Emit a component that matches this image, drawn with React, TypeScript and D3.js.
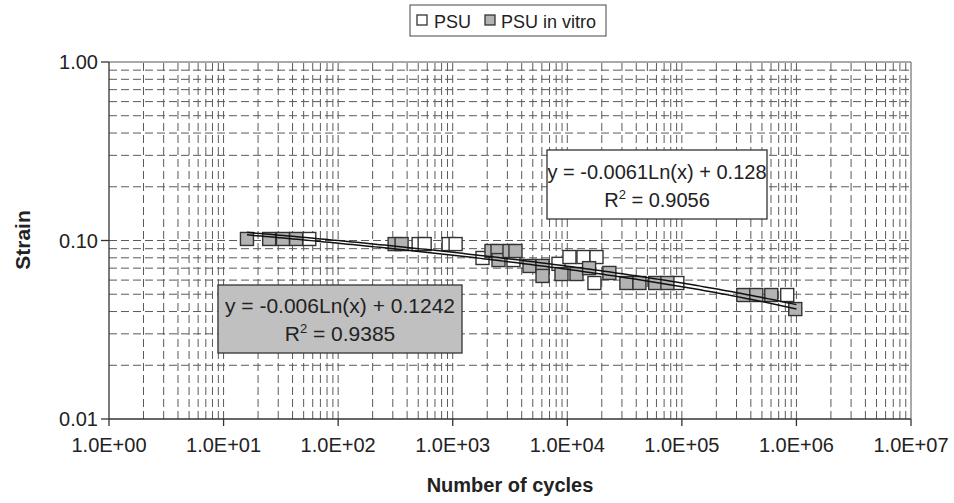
import React from "react";
import * as d3 from "d3";

const W = 954;
const H = 503;

// Tick values and labels
const xTickValues = [1, 10, 100, 1e3, 1e4, 1e5, 1e6, 1e7];
const xTickLabels = ["1.0E+00", "1.0E+01", "1.0E+02", "1.0E+03", "1.0E+04", "1.0E+05", "1.0E+06", "1.0E+07"];
const yTickValues = [0.01, 0.1, 1];
const yTickLabels = ["0.01", "0.10", "1.00"];

// PSU (white squares)
const psuCycles = [56, 504, 569, 921, 1060, 1820, 3390, 8380, 10450, 13840, 17990, 17260, 91300, 831000];
const psuStrain = [0.102, 0.0955, 0.0955, 0.0955, 0.0955, 0.0798, 0.0777, 0.074, 0.0808, 0.0808, 0.0808, 0.0578, 0.0578, 0.0495];

// PSU in vitro (grey squares)
const vitroCycles = [16, 25, 33, 43, 311, 358, 2180, 2460, 2510, 3130, 3530, 4680, 6080, 6080, 8900, 12030, 15500, 23300, 32800, 42650, 58500, 74800, 343600, 446700, 603000, 977000];
const vitroStrain = [0.102, 0.102, 0.102, 0.102, 0.0955, 0.0955, 0.0873, 0.0873, 0.0777, 0.0873, 0.0873, 0.072, 0.072, 0.0633, 0.0649, 0.0649, 0.07, 0.0658, 0.0578, 0.0578, 0.0578, 0.0578, 0.0495, 0.0495, 0.0495, 0.0413];

// Logarithmic trend lines: y = a*ln(x) + b
const psuTrend = { a: -0.0061, b: 0.128, r2: "0.9056", label: "y = -0.0061Ln(x) + 0.128" };
const vitroTrend = { a: -0.006, b: 0.1242, r2: "0.9385", label: "y = -0.006Ln(x) + 0.1242" };
const trendRange = [16, 1e6];

const FONT = "'Liberation Sans', Arial, sans-serif";

export default function App() {
  const left = 109, right = 911, top = 62, bottom = 419;
  const x = d3.scaleLog().domain([1, 1e7]).range([left, right]);
  const y = d3.scaleLog().domain([0.01, 1]).range([bottom, top]);

  const vGrid: number[] = [];
  for (let e = 0; e < 7; e++) for (let m = 1; m <= 9; m++) {
    const v = m * Math.pow(10, e);
    if (v > 1) vGrid.push(v);
  }
  const hGrid: number[] = [];
  for (let e = -2; e < 0; e++) for (let m = 1; m <= 9; m++) {
    const v = m * Math.pow(10, e);
    if (v > 0.01) hGrid.push(v);
  }

  const trendPath = (t: { a: number; b: number }) => {
    const pts: [number, number][] = [];
    const n = 120;
    const l0 = Math.log10(trendRange[0]), l1 = Math.log10(trendRange[1]);
    for (let i = 0; i <= n; i++) {
      const xv = Math.pow(10, l0 + (l1 - l0) * (i / n));
      pts.push([xv, t.a * Math.log(xv) + t.b]);
    }
    return d3.line<[number, number]>().x((d) => x(d[0])).y((d) => y(d[1]))(pts) || "";
  };

  const S = 13;
  const gridColor = "#5a5a5a";

  return (
    <svg width={W} height={H} style={{ position: "absolute", left: 0, top: 0, background: "#fff" }} fontFamily={FONT}>
      <rect x={0} y={0} width={W} height={H} fill="#fff" />
      {/* grid */}
      {hGrid.map((v, i) => (
        <line key={"h" + i} x1={left} x2={right} y1={y(v)} y2={y(v)} stroke={gridColor} strokeWidth={1} strokeDasharray="8,4" />
      ))}
      {vGrid.map((v, i) => (
        <line key={"v" + i} x1={x(v)} x2={x(v)} y1={bottom} y2={top} stroke={gridColor} strokeWidth={1} strokeDasharray="8,4" />
      ))}
      {/* plot border */}
      <line x1={left} x2={right} y1={top} y2={top} stroke="#555" strokeWidth={1} />
      <line x1={right} x2={right} y1={top} y2={bottom} stroke="#555" strokeWidth={1} />
      {/* axes */}
      <line x1={left} x2={left} y1={top} y2={bottom} stroke="#333" strokeWidth={1.3} />
      <line x1={left} x2={right} y1={bottom} y2={bottom} stroke="#333" strokeWidth={1.3} />
      {yTickValues.map((v, i) => (
        <g key={"yt" + i}>
          <line x1={left - 8} x2={left} y1={y(v)} y2={y(v)} stroke="#333" strokeWidth={1.3} />
          <text x={left - 11} y={y(v) + 7} textAnchor="end" fontSize={20} fill="#222">{yTickLabels[i]}</text>
        </g>
      ))}
      {xTickValues.map((v, i) => (
        <g key={"xt" + i}>
          <line x1={x(v)} x2={x(v)} y1={bottom} y2={bottom + 7} stroke="#333" strokeWidth={1.3} />
          <text x={x(v)} y={bottom + 33} textAnchor="middle" fontSize={20} fill="#222">{xTickLabels[i]}</text>
        </g>
      ))}
      {/* axis titles */}
      <text x={510} y={492} textAnchor="middle" fontSize={20} fontWeight="bold" fill="#222">Number of cycles</text>
      <text transform={`translate(30,240) rotate(-90)`} textAnchor="middle" fontSize={21} fontWeight="bold" fill="#222">Strain</text>

      {/* points */}
      {psuCycles.map((c, i) => (
        <rect key={"p" + i} x={x(c) - S / 2} y={y(psuStrain[i]) - S / 2} width={S} height={S} fill="#fff" stroke="#333" strokeWidth={1.4} />
      ))}
      {vitroCycles.map((c, i) => (
        <rect key={"g" + i} x={x(c) - S / 2} y={y(vitroStrain[i]) - S / 2} width={S} height={S} fill="#b3b3b3" stroke="#333" strokeWidth={1.4} />
      ))}
      {/* trend lines */}
      <path d={trendPath(psuTrend)} fill="none" stroke="#111" strokeWidth={1.5} />
      <path d={trendPath(vitroTrend)} fill="none" stroke="#111" strokeWidth={1.5} />

      {/* equation boxes */}
      <rect x={547} y={150} width={220} height={69} fill="#fff" stroke="#333" strokeWidth={1.3} />
      <text x={657} y={179} textAnchor="middle" fontSize={20} fill="#222">{psuTrend.label}</text>
      <text x={657} y={207} textAnchor="middle" fontSize={20} fill="#222">
        R<tspan fontSize={13} dy={-8}>2</tspan><tspan dy={8}>{" = " + psuTrend.r2}</tspan>
      </text>

      <rect x={218} y={285} width={244} height={68} fill="#c0c0c0" stroke="#333" strokeWidth={1.3} />
      <text x={340} y={313} textAnchor="middle" fontSize={21} fill="#222">{vitroTrend.label}</text>
      <text x={340} y={341} textAnchor="middle" fontSize={21} fill="#222">
        R<tspan fontSize={13} dy={-8}>2</tspan><tspan dy={8}>{" = " + vitroTrend.r2}</tspan>
      </text>

      {/* legend */}
      <rect x={410} y={5} width={196} height={31} fill="#fff" stroke="#444" strokeWidth={1} />
      <rect x={417} y={15} width={10} height={10} fill="#fff" stroke="#333" strokeWidth={1.3} />
      <text x={434} y={28} fontSize={18} fill="#222">PSU</text>
      <rect x={485} y={15} width={10} height={10} fill="#b3b3b3" stroke="#333" strokeWidth={1.3} />
      <text x={501} y={28} fontSize={18} fill="#222">PSU in vitro</text>
    </svg>
  );
}
